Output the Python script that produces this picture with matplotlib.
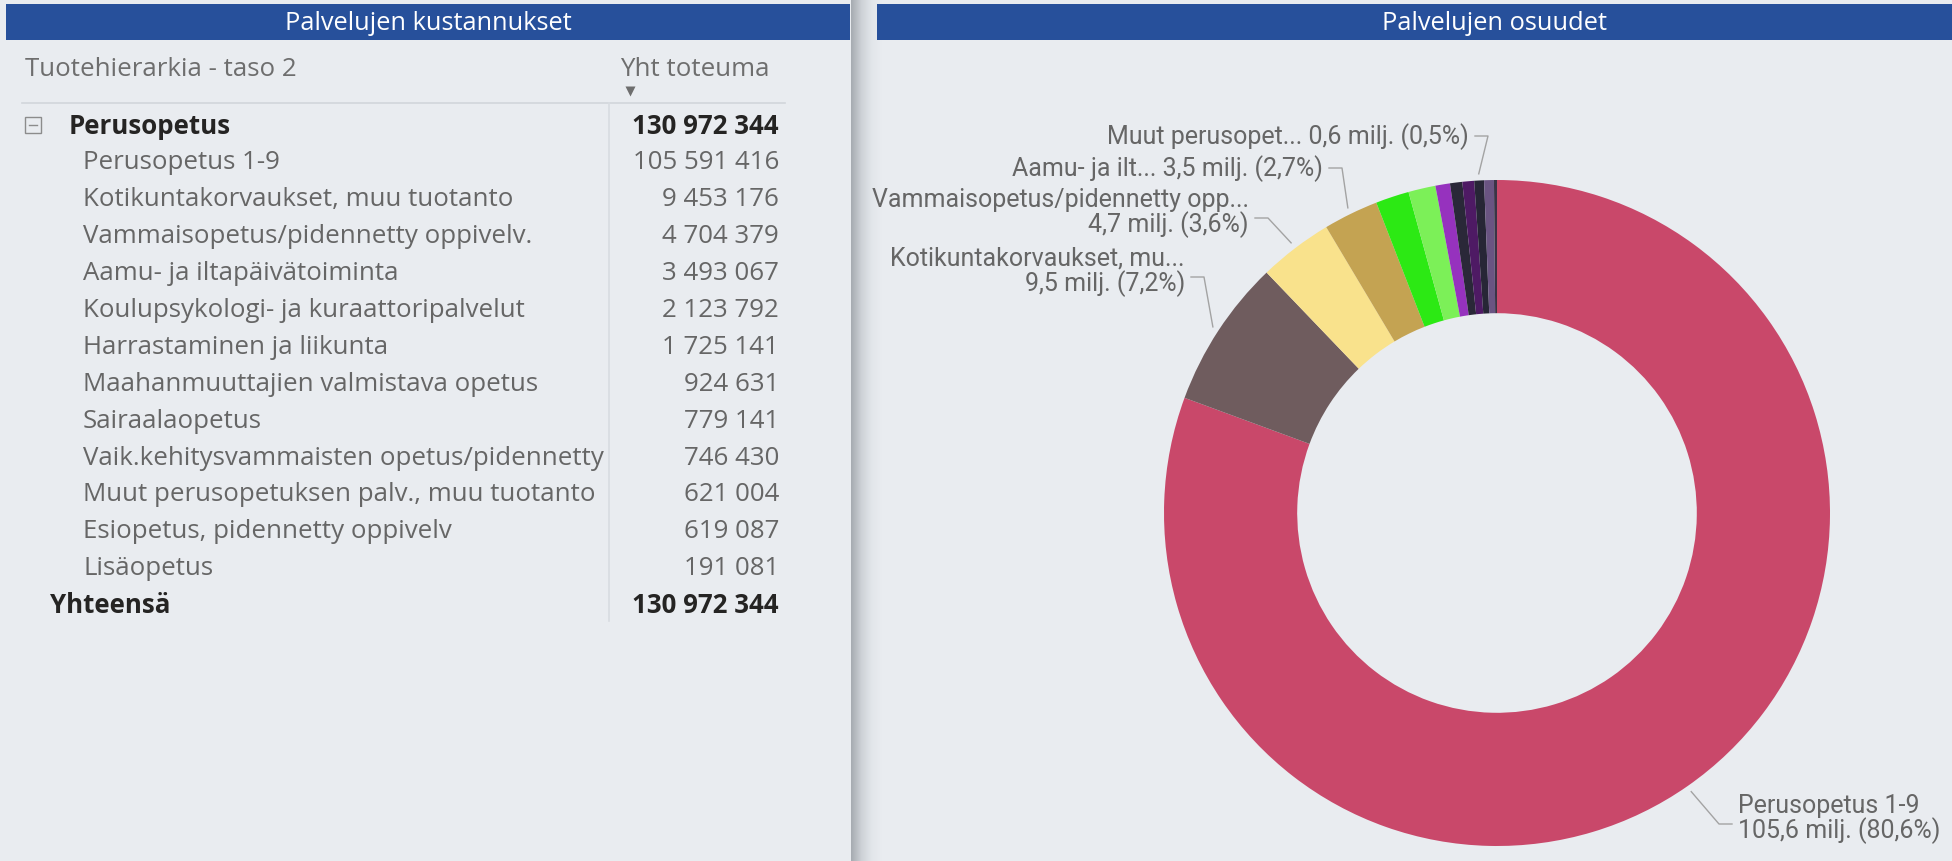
import numpy as np
import matplotlib.pyplot as plt
from matplotlib.patches import Rectangle
from matplotlib.colors import LinearSegmentedColormap

group_name = "Perusopetus"
total_name = "Yhteensä"
total = 130972344
services = [
    "Perusopetus 1-9",
    "Kotikuntakorvaukset, muu tuotanto",
    "Vammaisopetus/pidennetty oppivelv.",
    "Aamu- ja iltapäivätoiminta",
    "Koulupsykologi- ja kuraattoripalvelut",
    "Harrastaminen ja liikunta",
    "Maahanmuuttajien valmistava opetus",
    "Sairaalaopetus",
    "Vaik.kehitysvammaisten opetus/pidennetty",
    "Muut perusopetuksen palv., muu tuotanto",
    "Esiopetus, pidennetty oppivelv",
    "Lisäopetus",
]
costs = [105591416, 9453176, 4704379, 3493067, 2123792, 1725141,
         924631, 779141, 746430, 621004, 619087, 191081]
slice_colors = ["#C9486A", "#6F5C5E", "#F9E28C", "#C4A352", "#2CE914", "#7CF058",
                "#9632BE", "#2A2838", "#4E1A64", "#272636", "#6A5482", "#3A3446"]
# shortened names that Power BI shows next to the donut
short_names = {0: "Perusopetus 1-9",
               1: "Kotikuntakorvaukset, mu...",
               2: "Vammaisopetus/pidennetty opp...",
               3: "Aamu- ja ilt...",
               9: "Muut perusopet..."}

BG = "#E9ECF0"
BLUE = "#27509B"
TABLE_FONT = ["Open Sans", "DejaVu Sans"]
LABEL_FONT = ["Roboto", "DejaVu Sans"]
FS = 18.6


def fi_int(v):
    return f"{v:,}".replace(",", " ")


def fi_dec(v):
    return f"{v:.1f}".replace(".", ",")


W, H = 1952, 862
fig = plt.figure(figsize=(W / 100, H / 100), dpi=100)
fig.patch.set_facecolor(BG)

# pixel-based canvas for the report chrome
bg = fig.add_axes([0, 0, 1, 1])
bg.set_facecolor(BG)
bg.axis("off")

# header bars
bg.add_patch(Rectangle((6, 5), 844, 36, color=BLUE, lw=0))
bg.add_patch(Rectangle((877, 5), W - 877, 36, color=BLUE, lw=0))
bg.text(428, 24, "Palvelujen kustannukset", color="white", ha="center", va="center",
        fontsize=18.3, family=TABLE_FONT)
bg.text(1494, 24, "Palvelujen osuudet", color="white", ha="center", va="center",
        fontsize=18.3, family=TABLE_FONT)

# shadow strip between the two visuals
cmap = LinearSegmentedColormap.from_list("strip", ["#A6ABB1", "#CDD1D6", "#E2E6EA", BG])
bg.imshow(np.linspace(0, 1, 64)[None, :], extent=(851, 882, H, 0), cmap=cmap, aspect="auto")

# --- matrix ---
bg.text(25, 70, "Tuotehierarkia - taso 2", color="#6E6E6E", ha="left", va="center",
        fontsize=FS, family=TABLE_FONT)
bg.text(770, 70, "Yht toteuma", color="#6E6E6E", ha="right", va="center",
        fontsize=FS, family=TABLE_FONT)
bg.plot(630, 92, marker="v", ms=7, color="#6E6E6E", mec="none")
bg.plot([22, 785], [104, 104], color="#D2D6DB", lw=1.2)
bg.plot([609, 609], [104, 622], color="#D8DCE1", lw=1.2)

y0, dy = 126, 36.9
# group row with collapse box
bg.add_patch(Rectangle((25, y0 - 8), 16, 16, fill=False, ec="#8C8C8C", lw=1))
bg.plot([29, 37], [y0, y0], color="#8C8C8C", lw=1)
bg.text(69, y0, group_name, color="#252423", fontweight="bold", ha="left", va="center",
        fontsize=FS, family=TABLE_FONT)
bg.text(779, y0, fi_int(total), color="#252423", fontweight="bold", ha="right", va="center",
        fontsize=FS, family=TABLE_FONT)
for i, (name, val) in enumerate(zip(services, costs)):
    y = y0 + (i + 1) * dy
    bg.text(83, y, name, color="#666666", ha="left", va="center", fontsize=FS, family=TABLE_FONT)
    bg.text(779, y, fi_int(val), color="#666666", ha="right", va="center", fontsize=FS,
            family=TABLE_FONT)
y = y0 + (len(services) + 1) * dy
bg.text(50, y, total_name, color="#252423", fontweight="bold", ha="left", va="center",
        fontsize=FS, family=TABLE_FONT)
bg.text(779, y, fi_int(total), color="#252423", fontweight="bold", ha="right", va="center",
        fontsize=FS, family=TABLE_FONT)

bg.set_xlim(0, W)
bg.set_ylim(H, 0)

# --- donut ---
cx, cy, R = 1497, 514, 333
ax = fig.add_axes([(cx - R) / W, (H - cy - R) / H, 2 * R / W, 2 * R / H])
wedges, _ = ax.pie(costs, colors=slice_colors, startangle=90, counterclock=False,
                   wedgeprops=dict(width=0.4, linewidth=0))
ax.set_xlim(-1, 1)
ax.set_ylim(-1, 1)


def pie_to_px(u, v):
    return bg.transData.inverted().transform(ax.transData.transform((u, v)))


# label anchor (pixel x, block centre y, alignment, two lines?)
label_layout = {0: (1738, 819, "left", True),
                1: (1185, 272, "right", True),
                2: (1249, 213, "right", True),
                3: (1323, 169, "right", False),
                9: (1469, 137, "right", False)}
for i, (tx, ty, ha, two) in label_layout.items():
    pct = costs[i] / total * 100
    sep = "\n" if two else " "
    txt = f"{short_names[i]}{sep}{fi_dec(costs[i] / 1e6)} milj. ({fi_dec(pct)}%)"
    bg.text(tx, ty, txt, ha=ha, va="center", multialignment=ha, color="#666666",
            fontsize=18, family=LABEL_FONT, linespacing=1.0)
    w = wedges[i]
    mid = np.radians((w.theta1 + w.theta2) / 2)
    px, py = pie_to_px(1.02 * np.cos(mid), 1.02 * np.sin(mid))
    s = 1 if ha == "right" else -1
    ly = ty + 6 if two else ty
    x1 = tx + s * 6
    x2 = x1 + s * 13
    bg.plot([x1, x2, px], [ly, ly, py], color="#A3A3A3", lw=1)

fig.savefig("out.png", dpi=100, facecolor=BG)
